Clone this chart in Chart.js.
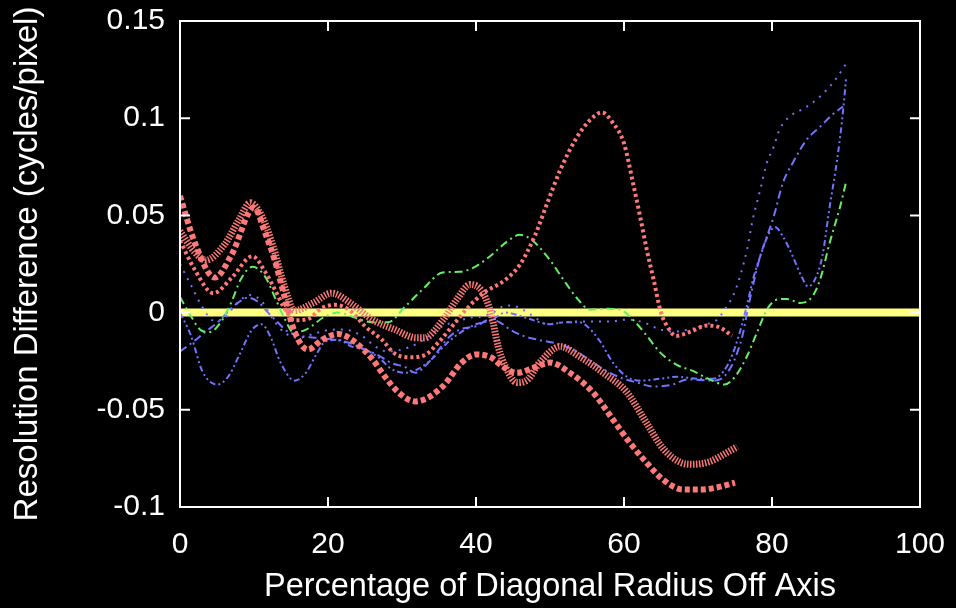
<!DOCTYPE html>
<html>
<head>
<meta charset="utf-8">
<script src="https://cdn.jsdelivr.net/npm/chart.js@4"></script>
<style>
  html, body { margin: 0; padding: 0; background: #000; }
  #resChart { display: block; }
</style>
</head>
<body>
<canvas id="resChart" width="956" height="608"></canvas>
<script>
// axis ticks
const xTicks = [0, 20, 40, 60, 80, 100];
const yTicks = [-0.1, -0.05, 0, 0.05, 0.1, 0.15];

// red, big square dots
const redAX = [0, 2, 4.7, 7, 10, 11.5, 12.8, 14, 15.5, 17.3, 19.2, 21.4, 23.6, 26, 27.7, 29.5, 31.8, 35.5, 38, 40, 42, 43.7, 45.5, 48, 50, 52.7, 55.8, 58.5, 60.8, 63, 65.3, 68, 70.3, 72.5, 75];
const redAY = [0.060, 0.036, 0.018, 0.030, 0.054, 0.041, 0.027, 0.010, -0.010, -0.019, -0.014, -0.011, -0.015, -0.024, -0.033, -0.041, -0.0457, -0.038, -0.026, -0.0215, -0.023, -0.028, -0.031, -0.028, -0.0257, -0.031, -0.041, -0.055, -0.067, -0.077, -0.086, -0.091, -0.091, -0.090, -0.0875];

// red, comb hatched
const redBX = [0, 2, 3.5, 6, 8, 9.5, 11, 12.5, 14, 15.5, 18, 20.5, 23, 26, 29, 32, 33, 35.5, 37.4, 39.2, 40.8, 42, 43, 44, 45.5, 47, 48.6, 51.4, 54, 57.2, 60.4, 63, 65.3, 67.6, 69.3, 71.6, 73.9, 75.3];
const redBY = [0.042, 0.031, 0.027, 0.035, 0.048, 0.0565, 0.050, 0.035, 0.015, 0.001, 0.005, 0.010, 0.005, -0.0036, -0.0087, -0.013, -0.013, -0.004, 0.0067, 0.0144, 0.011, 0.0, -0.0175, -0.028, -0.036, -0.0344, -0.0257, -0.0175, -0.0226, -0.031, -0.041, -0.0565, -0.070, -0.077, -0.078, -0.0766, -0.072, -0.069];

// red, medium dots
const redCX = [0, 2, 4.5, 7, 9.8, 11.5, 12.8, 14, 15.5, 17.5, 19, 21, 23, 25, 27.3, 29, 31, 33, 35, 37, 39, 41, 44, 46, 48, 49.6, 51.4, 53.6, 55.4, 57, 58.5, 60, 61.2, 62.2, 63.1, 64, 65, 66, 67, 69, 71.2, 73, 74.6];
const redCY = [0.037, 0.022, 0.010, 0.018, 0.029, 0.021, 0.012, 0.003, -0.004, -0.003, 0.002, 0.004, 0.001, -0.007, -0.014, -0.021, -0.023, -0.022, -0.015, -0.006, 0.003, 0.010, 0.017, 0.025, 0.040, 0.056, 0.0735, 0.090, 0.099, 0.103, 0.0976, 0.087, 0.067, 0.049, 0.032, 0.017, 0.0, -0.008, -0.012, -0.0098, -0.0067, -0.0077, -0.012];

// green dash-dot
const greenX = [0, 1.5, 2.8, 4, 5.5, 6.9, 8.2, 9.8, 11.5, 12.8, 14.2, 15.3, 16.9, 19.6, 21.4, 23.6, 26, 28.1, 30.4, 32.8, 35.5, 37.8, 39.6, 41.9, 44.2, 45.9, 47.5, 50, 51.8, 53.8, 55.4, 57.7, 59.5, 61.2, 63.1, 64.9, 67.2, 69.3, 71.6, 73.6, 75, 76.6, 78, 79.3, 80.7, 82, 83.8, 85.4, 86.5, 87.8, 89.2, 90];
const greenY = [0.008, -0.002, -0.009, -0.010, -0.005, 0.005, 0.017, 0.0236, 0.0185, 0.008, -0.0036, -0.010, -0.009, -0.002, 0.0, -0.0026, -0.005, -0.005, 0.003, 0.012, 0.0206, 0.021, 0.023, 0.029, 0.0365, 0.040, 0.0375, 0.027, 0.017, 0.0067, 0.0015, 0.002, 0.0015, -0.0036, -0.012, -0.0206, -0.027, -0.030, -0.0344, -0.037, -0.033, -0.0226, -0.010, 0.0015, 0.0067, 0.007, 0.005, 0.008, 0.017, 0.036, 0.0545, 0.067];

// blue, sparse dots
const blueSX = [0, 1.5, 3, 4.5, 6, 7.5, 9.5, 11, 12.5, 14, 16, 18, 20, 22, 24.6, 26.4, 28, 30, 32, 34, 35.5, 37.4, 39.2, 40.8, 42.3, 44, 45.5, 47, 48.4, 49.6, 51.8, 54, 56.4, 58, 60.4, 62.6, 64.9, 66.6, 69.3, 71.2, 72.6, 73.6, 75, 76.6, 77.4, 78.4, 79.3, 80.2, 81, 82.4, 83.8, 85.5, 87.4, 88.8, 90];
const blueSY = [0.025, 0.014, 0.003, -0.004, -0.003, 0.004, 0.009, 0.006, -0.003, -0.010, -0.013, -0.011, -0.009, -0.0087, -0.012, -0.0175, -0.020, -0.019, -0.016, -0.011, -0.007, -0.0046, -0.0026, -0.002, 0.0, 0.0036, 0.003, 0.0, -0.0036, -0.006, -0.005, -0.0046, -0.0046, -0.0046, -0.0036, -0.005, -0.0087, -0.0098, -0.0082, -0.006, -0.0036, 0.0015, 0.011, 0.032, 0.048, 0.063, 0.077, 0.085, 0.094, 0.101, 0.104, 0.108, 0.1146, 0.121, 0.128];

// blue dash-dot
const blueDX = [0, 1.8, 3.4, 5.1, 6.5, 7.8, 9.2, 10.5, 11.9, 13.2, 14.6, 16.4, 18.5, 21, 23.2, 25, 26.8, 28.6, 30.4, 31.8, 33, 34.7, 36, 37.8, 40, 41.9, 43.2, 44.6, 46.4, 48.4, 51.4, 53.6, 55.8, 58.1, 59.9, 61.8, 63.9, 66.6, 68.5, 72, 73.2, 74.6, 75.3, 76, 76.8, 77.7, 78.4, 79.3, 80.2, 81.5, 82.8, 84.7, 86.5, 88.2, 89.6];
const blueDY = [-0.020, -0.015, -0.010, -0.005, 0.0005, 0.005, 0.0077, 0.0057, 0.0, -0.005, -0.0098, -0.012, -0.013, -0.014, -0.016, -0.019, -0.022, -0.026, -0.028, -0.031, -0.028, -0.0206, -0.014, -0.0087, -0.007, -0.0036, -0.005, -0.0087, -0.012, -0.014, -0.0164, -0.020, -0.0257, -0.031, -0.034, -0.036, -0.038, -0.037, -0.0344, -0.035, -0.034, -0.027, -0.0206, -0.012, 0.003, 0.0185, 0.029, 0.039, 0.049, 0.067, 0.077, 0.089, 0.0956, 0.102, 0.106];

// blue dash-dot-dot (V near 85)
const blueVX = [0, 1.5, 3, 5, 6.5, 8, 9.7, 11, 12.3, 13.5, 15.5, 17, 18.5, 19.6, 21.4, 23.2, 25, 26.8, 28.6, 30.4, 32.2, 34, 36, 38, 40, 42, 44, 47, 50, 52, 54, 55, 56.8, 58.5, 60.4, 62.2, 64.9, 67.2, 70, 72, 73.5, 74.6, 75.5, 76.5, 77.5, 78.5, 79.5, 80.4, 81.5, 82.8, 84, 84.9, 85.8, 86.8, 87.8, 88.8, 89.5, 90];
const blueVY = [0.0, -0.012, -0.030, -0.037, -0.033, -0.022, -0.009, -0.006, -0.013, -0.025, -0.035, -0.031, -0.021, -0.015, -0.014, -0.0175, -0.019, -0.023, -0.029, -0.031, -0.029, -0.024, -0.016, -0.010, -0.006, -0.004, 0.0, -0.003, -0.006, -0.005, -0.005, -0.007, -0.015, -0.0257, -0.033, -0.035, -0.034, -0.033, -0.034, -0.034, -0.030, -0.022, -0.012, 0.002, 0.018, 0.030, 0.040, 0.044, 0.039, 0.029, 0.0185, 0.0134, 0.017, 0.029, 0.0545, 0.0786, 0.100, 0.120];

// yellow zero line
const zeroX = [0, 100];
const zeroY = [0, 0];

const RED = '#ff7878';
const GREEN = '#66ee66';
const BLUE = '#7373ff';

function pts(xs, ys) {
    return xs.map((x, i) => ({ x: x, y: ys[i] }));
}

function line(xs, ys, color, width, dash) {
    return {
        data: pts(xs, ys),
        borderColor: color,
        borderWidth: width,
        borderDash: dash,
        borderCapStyle: 'butt',
        pointRadius: 0,
        fill: false,
        cubicInterpolationMode: 'monotone'
    };
}

// Box with inward ticks, like the original plot
const frame = {
    id: 'frame',
    afterDatasetsDraw(chart) {
        const { ctx, chartArea: a, scales } = chart;
        ctx.save();
        ctx.strokeStyle = '#ffffff';
        ctx.lineWidth = 2;
        ctx.strokeRect(a.left, a.top, a.right - a.left, a.bottom - a.top);
        ctx.beginPath();
        xTicks.slice(1, -1).forEach(v => {
            const px = scales.x.getPixelForValue(v);
            ctx.moveTo(px, a.bottom); ctx.lineTo(px, a.bottom - 10);
            ctx.moveTo(px, a.top); ctx.lineTo(px, a.top + 10);
        });
        yTicks.slice(1, -1).forEach(v => {
            const py = scales.y.getPixelForValue(v);
            ctx.moveTo(a.left, py); ctx.lineTo(a.left + 10, py);
            ctx.moveTo(a.right, py); ctx.lineTo(a.right - 10, py);
        });
        ctx.stroke();
        ctx.restore();
    }
};

Chart.defaults.font.family = '"Liberation Sans", Arial, sans-serif';
Chart.defaults.color = '#ffffff';

const ctx = document.getElementById('resChart').getContext('2d');

new Chart(ctx, {
    type: 'line',
    data: {
        datasets: [
            line(redAX, redAY, RED, 6, [5, 3]),
            line(redBX, redBY, RED, 7, [1.5, 1.5]),
            line(redCX, redCY, RED, 4, [3, 3]),
            line(greenX, greenY, GREEN, 2, [8, 4, 2, 4]),
            line(blueSX, blueSY, BLUE, 2, [2, 6]),
            line(blueDX, blueDY, BLUE, 2, [8, 4, 2, 4]),
            line(blueVX, blueVY, BLUE, 2, [6, 3, 2, 3, 2, 3]),
            line(zeroX, zeroY, '#ffff80', 8, [])
        ]
    },
    options: {
        responsive: false,
        animation: false,
        layout: { padding: { top: 21, right: 36, left: 0, bottom: 0 } },
        plugins: { legend: { display: false }, tooltip: { enabled: false } },
        scales: {
            x: {
                type: 'linear',
                min: 0, max: 100,
                afterBuildTicks: s => { s.ticks = xTicks.map(v => ({ value: v })); },
                afterFit: s => { s.height = 101; s.paddingLeft = 0; s.paddingRight = 0; },
                grid: { display: false, drawTicks: false },
                border: { display: false },
                ticks: { font: { size: 30 }, padding: 20, maxRotation: 0 },
                title: { display: true, text: 'Percentage of Diagonal Radius Off Axis', font: { size: 32.5 }, padding: { top: 0, bottom: 1 } }
            },
            y: {
                type: 'linear',
                min: -0.1, max: 0.15,
                afterBuildTicks: s => { s.ticks = yTicks.map(v => ({ value: v })); },
                afterFit: s => { s.width = 180; s.paddingTop = 0; s.paddingBottom = 0; },
                grid: { display: false, drawTicks: false },
                border: { display: false },
                ticks: {
                    font: { size: 30 },
                    padding: 15,
                    callback: v => String(Number(v.toFixed(2)))
                },
                title: { display: true, text: 'Resolution Difference (cycles/pixel)', font: { size: 33 }, padding: { top: 8, bottom: 0 } }
            }
        }
    },
    plugins: [frame]
});
</script>
</body>
</html>
